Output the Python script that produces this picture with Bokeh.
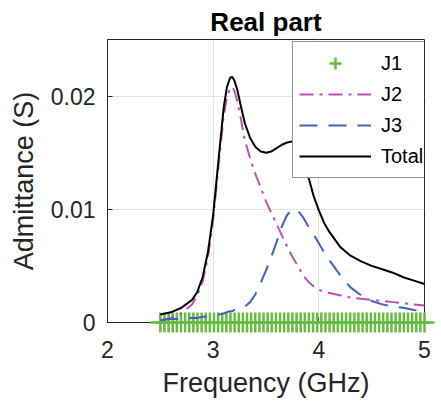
import numpy as np
from bokeh.plotting import figure
from bokeh.models import Range1d, FixedTicker, Legend, LegendItem
from bokeh.embed import file_html
from bokeh.resources import INLINE

# Frequency grid (GHz) for the curves
freq = [2.5, 2.6, 2.7, 2.8, 2.85, 2.9, 2.95, 3.0, 3.05, 3.1, 3.13, 3.16, 3.18, 3.2,
        3.23, 3.26, 3.3, 3.35, 3.4, 3.45, 3.5, 3.55, 3.6, 3.65, 3.7, 3.75, 3.8, 3.85,
        3.9, 3.95, 4.0, 4.05, 4.1, 4.2, 4.3, 4.4, 4.5, 4.6, 4.7, 4.8, 4.9, 5.0]

total = [0.0007, 0.0009, 0.0013, 0.0020, 0.0027, 0.0040, 0.0062, 0.0095, 0.0143, 0.0190,
         0.0208, 0.0216, 0.0217, 0.0214, 0.0205, 0.0192, 0.0176, 0.0163, 0.0155, 0.0151,
         0.0150, 0.0151, 0.0154, 0.0157, 0.0159, 0.0160, 0.0158, 0.0147, 0.0129, 0.0112,
         0.0099, 0.0088, 0.0080, 0.0067, 0.0059, 0.0054, 0.0050, 0.0047, 0.0044, 0.0040,
         0.0037, 0.0034]

j2 = [0.0002, 0.0004, 0.0008, 0.0016, 0.0024, 0.0036, 0.0057, 0.0091, 0.0138, 0.0183,
      0.0199, 0.0207, 0.0208, 0.0205, 0.0195, 0.0181, 0.0161, 0.0145, 0.0131, 0.0119,
      0.0107, 0.0097, 0.0087, 0.0077, 0.0067, 0.0058, 0.0050, 0.0042, 0.0036, 0.0032,
      0.0029, 0.0027, 0.0026, 0.0024, 0.0022, 0.0021, 0.0020, 0.0019, 0.0018, 0.0017,
      0.0016, 0.0015]

j3 = [0.0002, 0.0003, 0.0003, 0.0004, 0.0004, 0.0005, 0.0005, 0.0006, 0.0007, 0.0008,
      0.0009, 0.0010, 0.0010, 0.0011, 0.0012, 0.0013, 0.0014, 0.0018, 0.0025, 0.0035,
      0.0046, 0.0058, 0.0071, 0.0085, 0.0095, 0.0100, 0.0099, 0.0093, 0.0085, 0.0078,
      0.0070, 0.0062, 0.0055, 0.0042, 0.0031, 0.0024, 0.0019, 0.0016, 0.0014, 0.0013,
      0.0011, 0.0010]

# J1: sweep points, all at ~0
j1_freq = np.linspace(2.5, 5.0, 65)
j1 = [0.0] * len(j1_freq)

x_ticks = [2, 3, 4, 5]
x_tick_labels = ["2", "3", "4", "5"]
y_ticks = [0, 0.01, 0.02]
y_tick_labels = ["0", "0.01", "0.02"]

FONT = "Liberation Sans"
AX = "#262626"

p = figure(width=441, height=409, output_backend="svg", toolbar_location=None,
           x_range=Range1d(2, 5), y_range=Range1d(0, 0.025),
           min_border_left=107, min_border_right=17, min_border_top=39,
           min_border_bottom=87)

p.background_fill_color = "white"
p.border_fill_color = "white"
p.outline_line_color = AX
p.outline_line_width = 1

p.title.text = "Real part"
p.title.align = "center"
p.title.text_font = FONT
p.title.text_font_style = "bold"
p.title.text_font_size = "26px"
p.title.text_color = "black"
p.title.standoff = 6

for ax in (p.xaxis[0], p.yaxis[0]):
    ax.axis_line_color = AX
    ax.major_tick_line_color = AX
    ax.major_tick_in = 5
    ax.major_tick_out = 0
    ax.minor_tick_line_color = None
    ax.major_label_text_font = FONT
    ax.major_label_text_font_size = "23px"
    ax.major_label_text_color = AX
    ax.axis_label_text_font = FONT
    ax.axis_label_text_font_size = "27px"
    ax.axis_label_text_font_style = "normal"
    ax.axis_label_text_color = AX

p.xaxis.ticker = FixedTicker(ticks=x_ticks)
p.xaxis.major_label_overrides = {t: l for t, l in zip(x_ticks, x_tick_labels)}
p.yaxis.ticker = FixedTicker(ticks=y_ticks)
p.yaxis.major_label_overrides = {t: l for t, l in zip(y_ticks, y_tick_labels)}
p.xaxis.axis_label = "Frequency (GHz)"
p.yaxis.axis_label = "Admittance (S)"
p.xaxis.major_label_standoff = 18
p.xaxis.axis_label_standoff = 7
p.yaxis.major_label_standoff = 12
p.yaxis.axis_label_standoff = 9

p.xgrid.grid_line_color = "#e3e3e3"
p.ygrid.grid_line_color = "#e3e3e3"
p.xgrid.grid_line_width = 1
p.ygrid.grid_line_width = 1

r1 = p.scatter(j1_freq, j1, marker="cross", size=20, line_color="#66bd40",
               line_width=2.5, level="annotation")
r2 = p.line(freq, j2, line_color="#c050b0", line_width=2, line_dash="14 6 3 6",
            level="annotation")
r3 = p.line(freq, j3, line_color="#4064be", line_width=2, line_dash="18 11",
            level="annotation")
r4 = p.line(freq, total, line_color="black", line_width=2, level="annotation")

legend = Legend(items=[LegendItem(label="J1", renderers=[r1]),
                       LegendItem(label="J2", renderers=[r2]),
                       LegendItem(label="J3", renderers=[r3]),
                       LegendItem(label="Total", renderers=[r4])],
                location=(185, 144), orientation="vertical",
                label_text_font=FONT, label_text_font_size="20px",
                label_text_color="black",
                glyph_width=72, glyph_height=30, label_height=30,
                label_standoff=10, padding=6, spacing=1, margin=0,
                border_line_color=AX, border_line_width=1,
                background_fill_color="white", background_fill_alpha=1.0,
                level="overlay")
p.add_layout(legend)

open("out.html", "w").write(file_html(p, INLINE))
